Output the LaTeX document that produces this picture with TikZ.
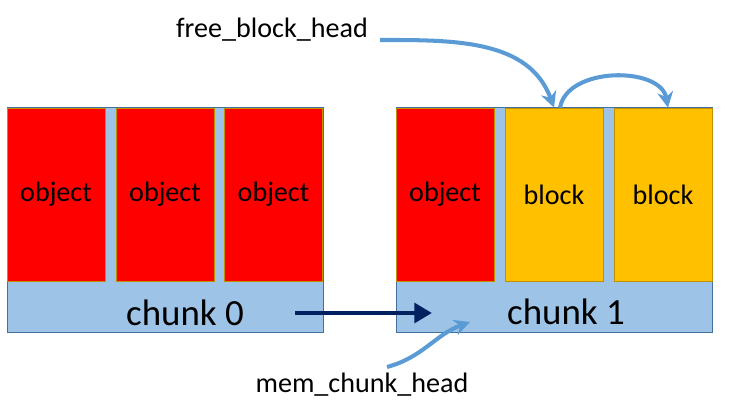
\documentclass[tikz,border=0pt]{standalone}
\usepackage{fontspec}
\setmainfont{Carlito}
\usetikzlibrary{arrows.meta}
\definecolor{chunkblue}{HTML}{9DC3E6}
\definecolor{chunkline}{HTML}{41719C}
\definecolor{objred}{HTML}{FF0000}
\definecolor{blkyellow}{HTML}{FFC000}
\definecolor{boxline}{HTML}{BF9000}
\definecolor{headblue}{HTML}{5B9BD5}
\definecolor{navy}{HTML}{002060}
\begin{document}
\begin{tikzpicture}[x=0.02cm, y=-0.02cm,
    chunkbox/.style={draw=chunkline, fill=chunkblue, minimum width=6.32cm, minimum height=4.5cm, inner sep=0pt},
    objbox/.style={draw=boxline, fill=objred, minimum width=1.96cm, minimum height=3.46cm, inner sep=0pt, font=\fontsize{16}{19}\selectfont},
    blkbox/.style={objbox, fill=blkyellow},
    chunklabel/.style={font=\fontsize{21}{25}\selectfont},
    headlabel/.style={font=\fontsize{16}{19}\selectfont},
    headarrow/.style={draw=headblue, line width=2.3pt, -{Stealth[length=9pt, width=9pt]}},
    nextarrow/.style={draw=navy, line width=2.8pt, -{Triangle[length=10pt, width=11pt]}}]
    \useasboundingbox (0,0) rectangle (742,412);
    \node[chunkbox] (Chunk0) at (165,219.5) {};
    \node[objbox] (Obj00) at (56,194.5) {object};
    \node[objbox] (Obj01) at (165,194.5) {object};
    \node[objbox] (Obj02) at (273.5,194.5) {object};
    \node[chunklabel] (Label0) at (185,313) {chunk 0};
    \node[chunkbox] (Chunk1) at (554,219.5) {};
    \node[objbox] (Obj10) at (445,194.5) {object};
    \node[blkbox] (Block1) at (554,194.5) {block};
    \node[blkbox] (Block2) at (663,194.5) {block};
    \node[chunklabel] (Label1) at (566,312) {chunk 1};
    \coordinate (NextFrom) at (295,313);
    \coordinate (NextTo) at (432,313);
    \draw[nextarrow] (NextFrom) to (NextTo);
    \node[headlabel] (FreeHead) at (272,30) {free\_block\_head};
    \coordinate (FreeFrom) at (380,40);
    \draw[headarrow] (FreeFrom) to[out=0, in=110] (Block1.north);
    \draw[headarrow] ([xshift=0.12cm]Block1.north) to[out=80, in=100] ([xshift=0.1cm]Block2.north);
    \node[headlabel] (MemHead) at (362,385) {mem\_chunk\_head};
    \coordinate (MemFrom) at (387,367);
    \coordinate (MemTo) at (470,322);
    \draw[headarrow] (MemFrom) to[out=15, in=200] (MemTo);
\end{tikzpicture}
\end{document}
